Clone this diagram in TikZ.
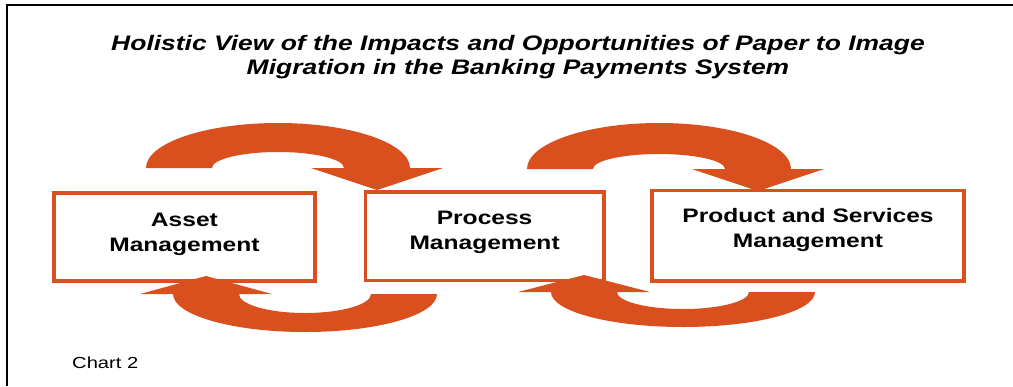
\documentclass[tikz,border=0pt]{standalone}
\usepackage{fontspec}
\setmainfont{Liberation Sans}[FakeStretch=1.26]

\definecolor{rust}{RGB}{217,80,30}

\tikzset{
  blockbox/.style={draw=rust, line width=3.5pt, fill=white, inner sep=0pt},
  boxtext/.style={align=center, anchor=base, inner sep=0pt,
    font=\fontsize{19.5}{25}\selectfont\bfseries},
  loopfill/.style={fill=rust},
}

\begin{document}
\begin{tikzpicture}[x=1pt,y=-1pt]
  \useasboundingbox (0,0) rectangle (1013,386);

  % frame, top and left only
  \draw[line width=2pt] (7,386) -- (7,4.5) -- (1013,4.5);

  \node (title) [anchor=base, align=center, inner sep=0pt,
    font=\fontsize{21}{24}\selectfont\bfseries\itshape]
    at (518,74)
    {Holistic View of the Impacts and Opportunities of Paper to Image\\
     Migration in the Banking Payments System};

  % the three boxes
  \node (asset) [blockbox, minimum width=261pt, minimum height=88pt]
    at (184.4,237) {};
  \node (process) [blockbox, minimum width=238.5pt, minimum height=88.5pt]
    at (484.6,236.2) {};
  \node (product) [blockbox, minimum width=312pt, minimum height=90.5pt]
    at (808,235.7) {};

  % base is the last line here
  \node (asset text) [boxtext] at (asset.center |- 0,251)
    {Asset\\Management};
  \node (process text) [boxtext] at (process.center |- 0,249.5)
    {Process\\Management};
  \node (product text) [boxtext] at (product.center |- 0,247)
    {Product and Services\\Management};

  % loops over the top
  \fill[loopfill]
    (146,168) arc[start angle=180, end angle=360, x radius=132, y radius=45]
    -- (443,168) -- (377,190) -- (311,168) -- (344,168)
    arc[start angle=0, end angle=-180, x radius=66, y radius=16]
    -- cycle;
  \fill[loopfill]
    (527,169) arc[start angle=180, end angle=360, x radius=132, y radius=46]
    -- (824,169) -- (758,191) -- (692,169) -- (725,169)
    arc[start angle=0, end angle=-180, x radius=66, y radius=15]
    -- cycle;

  % loops underneath
  \fill[loopfill]
    (437,294) arc[start angle=0, end angle=180, x radius=132, y radius=38]
    -- (140,294) -- (206,276) -- (272,294) -- (239,294)
    arc[start angle=180, end angle=0, x radius=66, y radius=19]
    -- cycle;
  \fill[loopfill]
    (815,292) arc[start angle=0, end angle=180, x radius=132, y radius=35]
    -- (518,292) -- (584,275) -- (650,292) -- (617,292)
    arc[start angle=180, end angle=0, x radius=66, y radius=17]
    -- cycle;

  \node (chart label) [anchor=base west, inner sep=0pt,
    font=\fontsize{16}{19}\selectfont] at (72,368) {Chart 2};
\end{tikzpicture}
\end{document}
